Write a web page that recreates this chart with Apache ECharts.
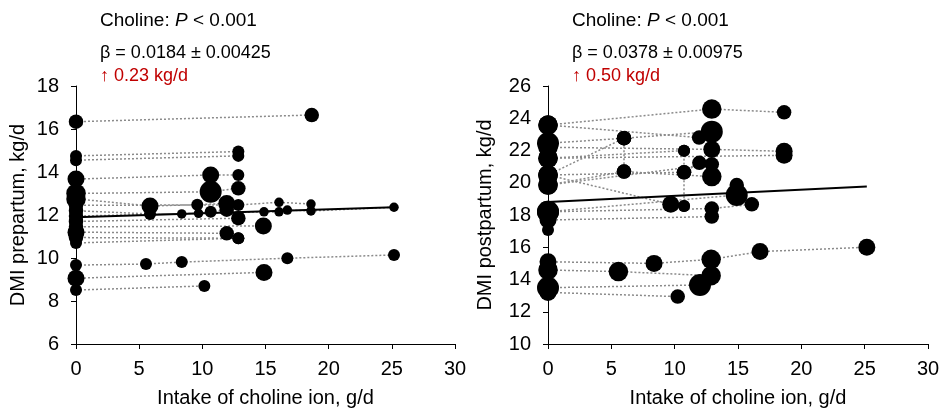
<!DOCTYPE html>
<html>
<head>
<meta charset="utf-8">
<title>DMI vs choline</title>
<script src="https://cdn.jsdelivr.net/npm/echarts@6/dist/echarts.min.js"></script>
<style>
html, body { margin: 0; padding: 0; background: #fff; }
#chart { width: 943px; height: 410px; }
</style>
</head>
<body>
<div id="chart"></div>
<script>
// each study: chain of [choline g/d, DMI kg/d, weight] joined by dotted lines
var prepStudies = [
	[[0, 16.34, 3], [18.66, 16.65, 3]],
	[[0, 14.75, 2], [12.85, 14.95, 2]],
	[[0, 14.55, 2], [12.85, 14.75, 2]],
	[[0, 13.67, 4], [10.66, 13.86, 4], [12.85, 13.86, 2]],
	[[0, 13.0, 5], [10.66, 13.08, 6], [12.85, 13.24, 3]],
	[[0, 12.75, 5], [5.86, 12.42, 4], [9.6, 12.48, 2], [11.93, 12.54, 4]],
	[[0, 12.45, 3], [12.85, 12.47, 2], [16.07, 12.59, 1], [18.6, 12.51, 1]],
	[[0, 12.2, 3], [5.86, 12.05, 2], [8.37, 12.05, 1], [9.7, 12.08, 1], [10.66, 12.15, 2], [11.93, 12.25, 3]],
	[[0, 11.95, 3], [14.88, 12.15, 1], [16.07, 12.15, 1], [16.73, 12.23, 1], [18.6, 12.19, 1], [25.17, 12.36, 1]],
	[[0, 11.7, 3], [12.85, 11.85, 3]],
	[[0, 11.45, 3], [14.83, 11.49, 4]],
	[[0, 11.2, 4], [11.93, 11.15, 3]],
	[[0, 10.95, 3], [12.85, 10.92, 2]],
	[[0, 10.7, 2], [12.85, 10.92, 2]],
	[[0, 9.67, 2], [5.54, 9.72, 2], [8.37, 9.81, 2], [16.73, 9.99, 2], [25.17, 10.14, 2]],
	[[0, 9.06, 4], [14.88, 9.33, 4]],
	[[0, 8.51, 2], [10.16, 8.70, 2]]
];

var postStudies = [
	[[0, 23.58, 5], [12.93, 24.57, 5], [18.64, 24.37, 3]],
	[[0, 23.58, 5], [11.93, 22.8, 3]],
	[[0, 22.45, 6], [6.0, 22.76, 3], [12.93, 23.17, 6]],
	[[6.0, 22.76, 3], [6.0, 20.69, 3]],
	[[0, 22.2, 5], [12.93, 22.07, 4], [18.64, 21.95, 4]],
	[[0, 21.52, 5], [18.64, 21.7, 4]],
	[[0, 21.52, 5], [10.74, 21.99, 2]],
	[[10.74, 21.99, 2], [10.74, 20.65, 3], [10.74, 18.56, 2]],
	[[0, 20.48, 5], [6.0, 22.76, 3]],
	[[0, 20.48, 5], [10.74, 20.65, 3], [11.95, 21.24, 3]],
	[[0, 20.48, 5], [9.69, 18.66, 4], [10.74, 18.56, 2]],
	[[0, 19.86, 5], [6.0, 20.69, 3], [12.93, 20.38, 5]],
	[[0, 19.86, 5], [12.93, 21.14, 3]],
	[[0, 18.2, 6], [14.9, 19.24, 6], [14.9, 19.86, 3]],
	[[0, 18.2, 6], [12.93, 18.4, 3], [16.09, 18.66, 3]],
	[[0, 17.69, 4], [12.93, 17.9, 3]],
	[[0, 17.07, 2]],
	[[0, 15.1, 4], [8.37, 15.0, 4], [12.88, 15.25, 5], [16.74, 15.73, 4], [25.17, 16.0, 4]],
	[[0, 14.59, 5], [5.56, 14.49, 5], [12.88, 14.24, 5]],
	[[0, 13.49, 6], [12.0, 13.66, 6]],
	[[0, 13.2, 4], [10.24, 12.94, 3]]
];

// fitted lines (start and end)
var prepFit = [[0, 11.9], [25.17, 12.36]];
var postFit = [[0, 18.8], [25.17, 19.76]];

var xRange = [0, 30, 5];
var prepRange = [6, 18, 2];
var postRange = [10, 26, 2];

var prepNotes = ['β = 0.0184 ± 0.00425', '↑ 0.23 kg/d'];
var postNotes = ['β = 0.0378 ± 0.00975', '↑ 0.50 kg/d'];

var FONT = '"Liberation Sans", Arial, sans-serif';

function getPoints(studies){
	var pts = [];
	for(var i=0; i<studies.length; i++){
		for(var j=0; j<studies[i].length; j++){
			pts.push(studies[i][j]);
		}
	}
	return pts;
}

function getLinks(studies){
	var links = [];
	for(var i=0; i<studies.length; i++){
		for(var j=1; j<studies[i].length; j++){
			var a = studies[i][j-1], b = studies[i][j];
			links.push({coords: [[a[0], a[1]], [b[0], b[1]]]});
		}
	}
	return links;
}

function xAxis(idx){
	return {
		gridIndex: idx, type: 'value',
		min: xRange[0], max: xRange[1], interval: xRange[2],
		name: 'Intake of choline ion, g/d', nameLocation: 'middle', nameGap: 44,
		nameTextStyle: {color: '#000', fontSize: 20, fontFamily: FONT},
		axisLine: {show: true, lineStyle: {color: '#000', width: 1}},
		axisTick: {show: true, inside: false, length: 5, lineStyle: {color: '#000'}},
		axisLabel: {color: '#000', fontSize: 20, fontFamily: FONT, margin: 15},
		splitLine: {show: false}
	};
}

function yAxis(idx, range, name, gap){
	return {
		gridIndex: idx, type: 'value',
		min: range[0], max: range[1], interval: range[2],
		name: name, nameLocation: 'middle', nameGap: gap, nameRotate: 90,
		nameTextStyle: {color: '#000', fontSize: 20, fontFamily: FONT},
		axisLine: {show: true, onZero: false, lineStyle: {color: '#000', width: 1}},
		axisTick: {show: true, inside: false, length: 5, lineStyle: {color: '#000'}},
		axisLabel: {color: '#000', fontSize: 20, fontFamily: FONT, margin: 17},
		splitLine: {show: false}
	};
}

function panelSeries(idx, studies, fit){
	return [
		{
			type: 'lines', coordinateSystem: 'cartesian2d',
			xAxisIndex: idx, yAxisIndex: idx,
			data: getLinks(studies),
			symbol: 'none', silent: true, z: 1,
			lineStyle: {color: '#8a8a8a', width: 1.5, type: [2, 2], opacity: 1}
		},
		{
			type: 'scatter', xAxisIndex: idx, yAxisIndex: idx,
			data: getPoints(studies),
			symbolSize: function(v){ return 7 + v[2]*2.5; },
			itemStyle: {color: '#000', opacity: 1},
			z: 3
		},
		{
			type: 'line', xAxisIndex: idx, yAxisIndex: idx,
			data: fit, symbol: 'none', silent: true, z: 4,
			lineStyle: {color: '#000', width: 2}
		}
	];
}

function notes(left, lines){
	return [
		{
			type: 'text', left: left, top: 11,
			style: {
				text: '{a|Choline: }{i|P}{a| < 0.001}',
				rich: {
					a: {fontSize: 19, fontFamily: FONT, fill: '#000'},
					i: {fontSize: 19, fontFamily: FONT, fontStyle: 'italic', fill: '#000'}
				}
			}
		},
		{type: 'text', left: left, top: 44, style: {text: lines[0], fontSize: 18, fontFamily: FONT, fill: '#000'}},
		{type: 'text', left: left, top: 67, style: {text: lines[1], fontSize: 18, fontFamily: FONT, fill: '#c00000'}}
	];
}

var chart = echarts.init(document.getElementById('chart'), null, {renderer: 'canvas'});

var option = {
	animation: false,
	backgroundColor: '#fff',
	grid: [
		{left: 76, top: 86, width: 379, height: 258, outerBoundsMode: 'none'},
		{left: 548, top: 86, width: 380, height: 258, outerBoundsMode: 'none'}
	],
	xAxis: [xAxis(0), xAxis(1)],
	yAxis: [
		yAxis(0, prepRange, 'DMI prepartum, kg/d', 48),
		yAxis(1, postRange, 'DMI postpartum, kg/d', 53)
	],
	series: panelSeries(0, prepStudies, prepFit).concat(panelSeries(1, postStudies, postFit)),
	graphic: notes(100, prepNotes).concat(notes(572, postNotes))
};

chart.setOption(option);
</script>
</body>
</html>
